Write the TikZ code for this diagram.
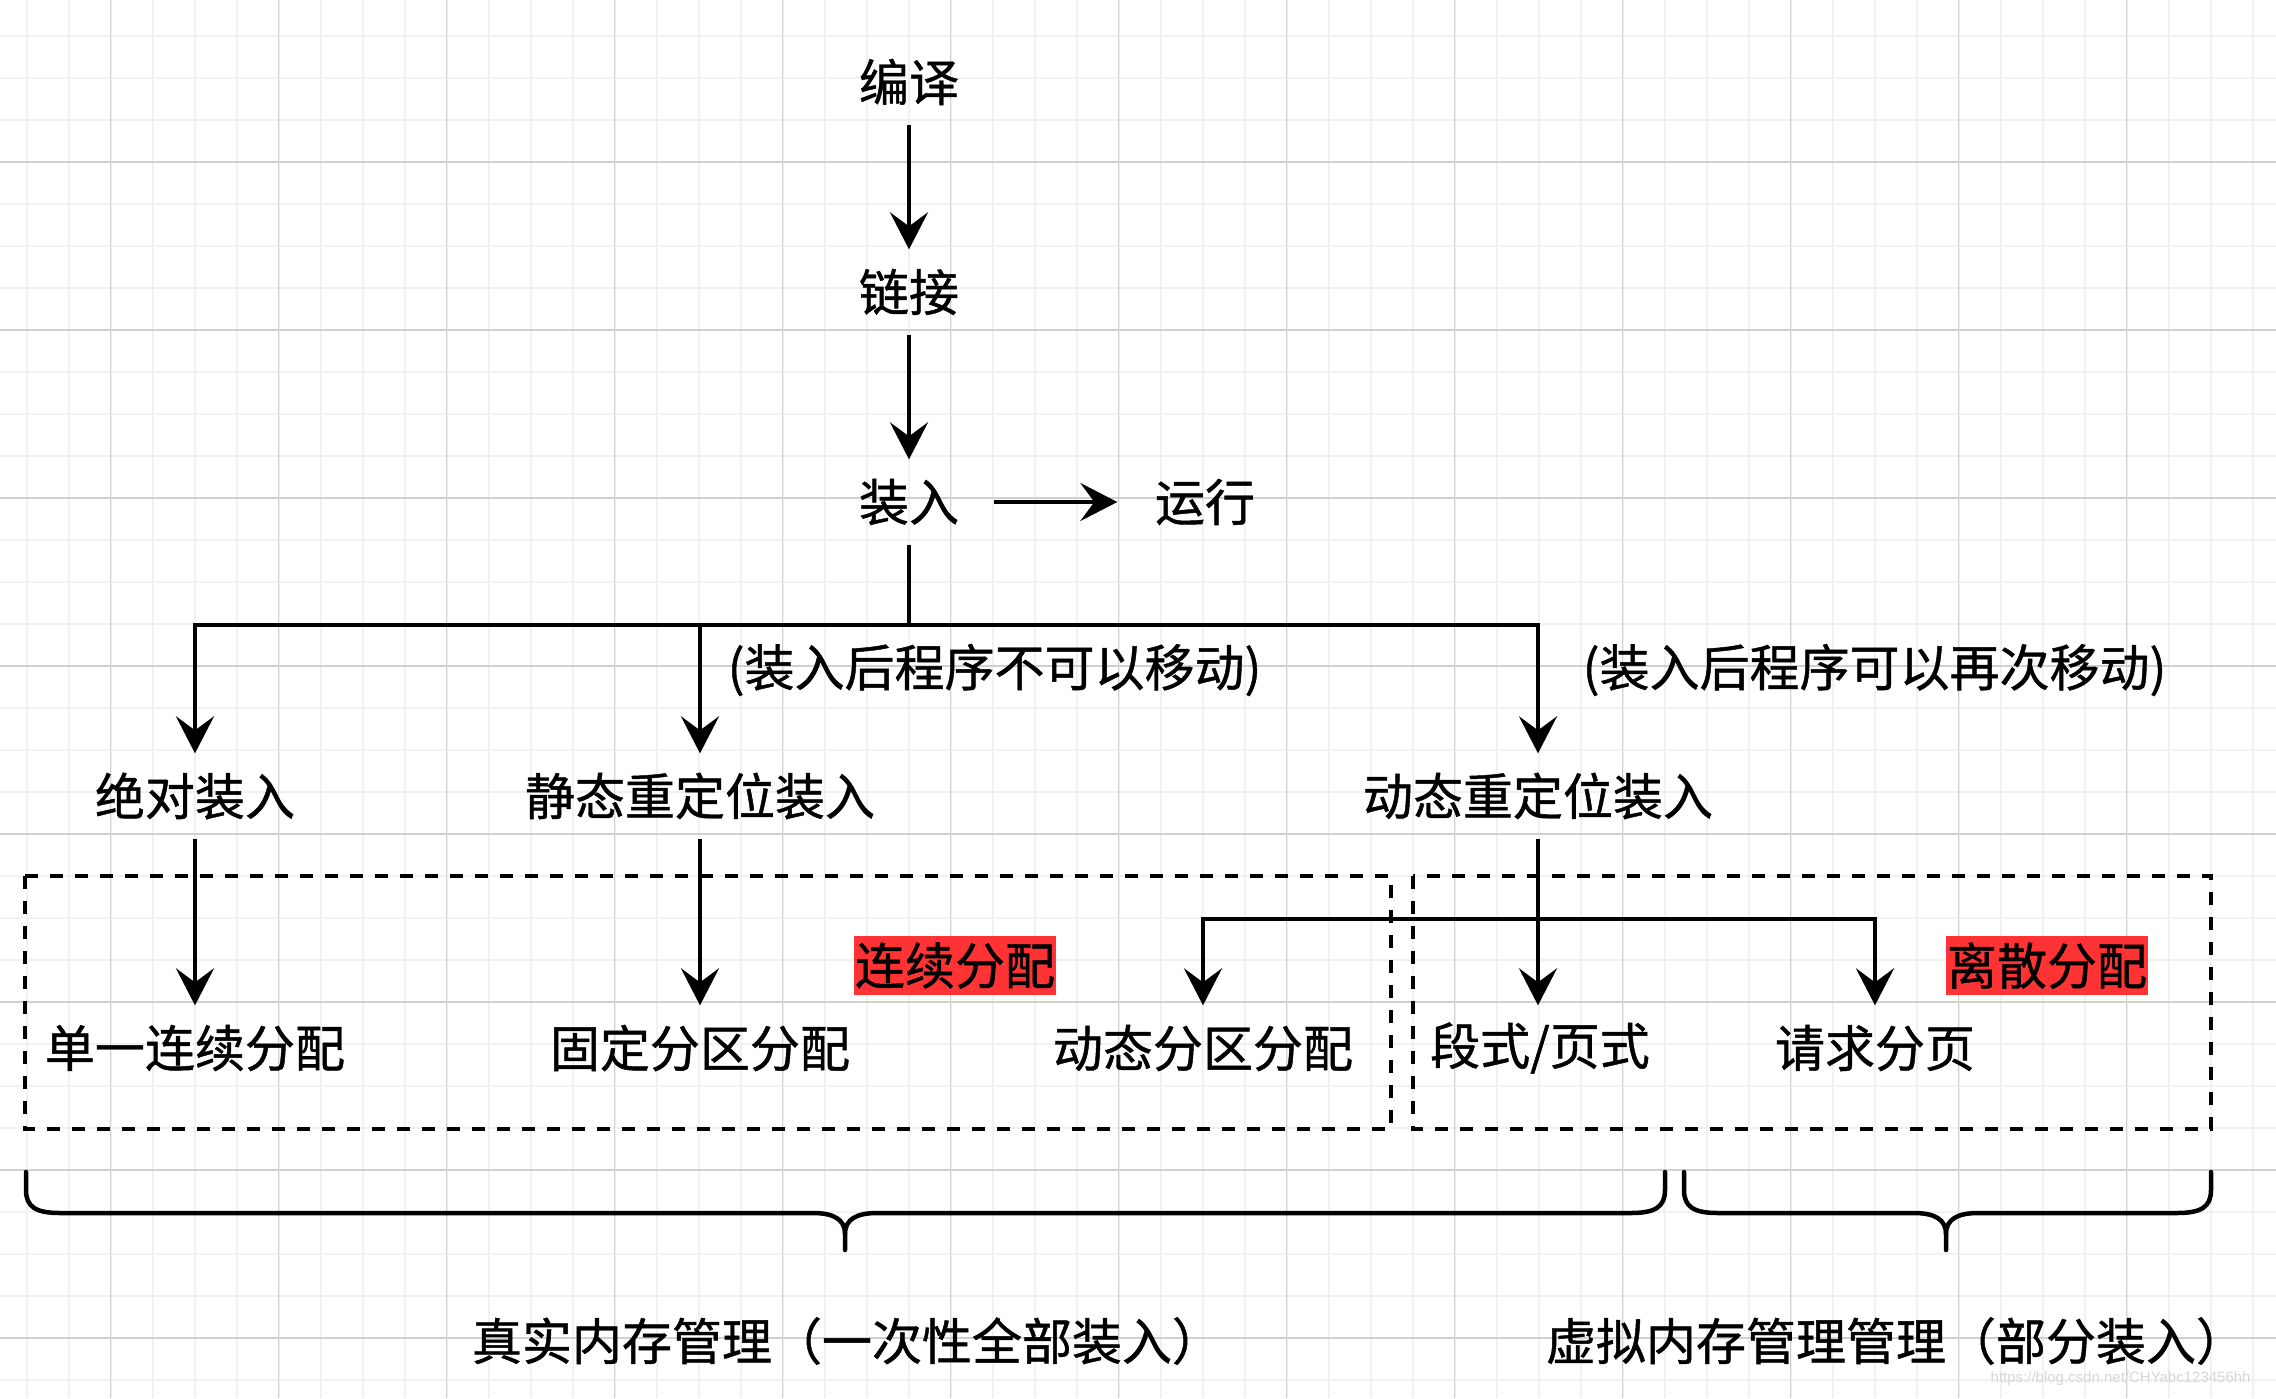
\documentclass[tikz,border=0pt]{standalone}
\usepackage{fontspec}
\newfontfamily\cjk[FakeBold=0.9]{Noto Sans CJK SC}
\newfontfamily\wmfont{Liberation Sans}
\usetikzlibrary{arrows.meta}
\definecolor{gridmajor}{RGB}{208,208,208}
\definecolor{gridminor}{RGB}{241,241,241}
\definecolor{redc}{RGB}{255,51,51}
\definecolor{wmgray}{RGB}{215,215,215}
\tikzset{
  txt/.style={font=\cjk\fontsize{15pt}{18pt}\selectfont, inner sep=0pt, minimum height=25.2pt},
  redlbl/.style={txt, fill=redc, inner xsep=0.3pt, minimum height=17.7pt},
  conn/.style={line width=1.35pt, draw=black},
  arr/.style={conn, -{Stealth[length=11.1pt,width=11.4pt,inset=4.2pt]}},
  dbox/.style={line width=1.2pt, dash pattern=on 3.9pt off 3.6pt},
  brace/.style={line width=1.35pt, line cap=round, line join=round},
  gmin/.style={draw=gridminor, line width=0.6pt},
  gmaj/.style={draw=gridmajor, line width=0.45pt},
}
\begin{document}
\begin{tikzpicture}[x=0.3pt,y=-0.3pt]
\useasboundingbox (0,0) rectangle (2276,1398);
\fill[white] (0,0) rectangle (2276,1398);
% grid
\foreach \i in {0,...,53} \draw[gmin] ({26.5+42*\i},0) -- ({26.5+42*\i},1398);
\foreach \i in {0,...,32} \draw[gmin] (0,{36+42*\i}) -- (2276,{36+42*\i});
\foreach \i in {0,...,12} \draw[gmaj] ({110.5+168*\i},0) -- ({110.5+168*\i},1398);
\foreach \i in {0,...,7} \draw[gmaj] (0,{162+168*\i}) -- (2276,{162+168*\i});

% top chain
\node[txt] (comp) at (909,82) {编译};
\node[txt] (link) at (909,292) {链接};
\node[txt, inner xsep=10.2pt] (load) at (909,502) {装入};
\node[txt, inner xsep=11.1pt] (run) at (1205,502) {运行};
\draw[arr] (comp) -- (link);
\draw[arr] (link) -- (load);
\draw[arr] (load) -- (run);

% loading methods
\node[txt] (abs) at (195,796) {绝对装入};
\node[txt] (sta) at (700,796) {静态重定位装入};
\node[txt] (dyn) at (1538,796) {动态重定位装入};
\coordinate (j1) at (909,625);
\draw[conn] (load.south) -- (j1);
\draw[arr] (j1) -| (abs.north);
\draw[arr] (j1) -| (sta.north);
\draw[arr] (j1) -| (dyn.north);
\node[txt, anchor=west] (note1) at (727,670) {(装入后程序不可以移动)};
\node[txt, anchor=west] (note2) at (1582,670) {(装入后程序可以再次移动)};

% dashed groups
\draw[dbox] (25,876) rectangle (1391,1129);
\draw[dbox] (1413,876) rectangle (2211,1129);
\node[redlbl] (contlbl) at (955,965.5) {连续分配};
\node[redlbl] (disclbl) at (2047,965.5) {离散分配};

% allocation methods
\node[txt] (single) at (195,1048) {单一连续分配};
\node[txt] (fixed) at (700,1048) {固定分区分配};
\node[txt] (dpart) at (1203,1048) {动态分区分配};
\node[txt] (segpg) at (1540,1048) {段式/页式};
\node[txt] (req) at (1875,1048) {请求分页};
\draw[arr] (abs) -- (single);
\draw[arr] (sta) -- (fixed);
\draw[arr] (dyn.south) -- (dyn.south |- segpg.north);
\coordinate (j2) at (1538,919);
\draw[arr] (j2) -| (dpart.north);
\draw[arr] (j2) -| (req.north);

% braces
\draw[brace] (26,1172) -- (26,1190) .. controls (26,1207) and (36,1213) .. (60,1213) -- (813,1213) .. controls (833,1213) and (845,1219) .. (845,1234) -- (845,1250);
\draw[brace] (1665,1172) -- (1665,1190) .. controls (1665,1207) and (1655,1213) .. (1631,1213) -- (877,1213) .. controls (857,1213) and (845,1219) .. (845,1234);
\draw[brace] (1684,1172) -- (1684,1190) .. controls (1684,1207) and (1694,1213) .. (1718,1213) -- (1914,1213) .. controls (1934,1213) and (1946,1219) .. (1946,1234) -- (1946,1250);
\draw[brace] (2211,1172) -- (2211,1190) .. controls (2211,1207) and (2201,1213) .. (2177,1213) -- (1978,1213) .. controls (1958,1213) and (1946,1219) .. (1946,1234);

\node[txt] (real) at (847,1341) {真实内存管理（一次性全部装入）};
\node[txt] (virt) at (1896,1341) {虚拟内存管理管理（部分装入）};

% watermark
\node[font=\wmfont\fontsize{4.5pt}{5pt}\selectfont, text=wmgray, inner sep=0pt, anchor=west] (wm) at (1990,1379) {https://blog.csdn.net/CHYabc123456hh};
\end{tikzpicture}
\end{document}
